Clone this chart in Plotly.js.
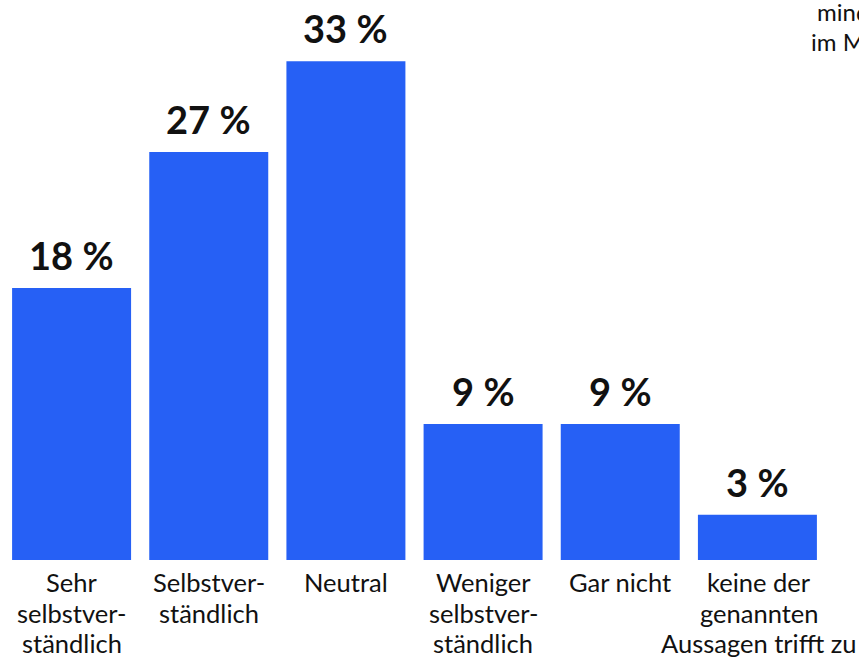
<!DOCTYPE html>
<html>
<head>
<meta charset="utf-8">
<script src="https://cdn.plot.ly/plotly-3.0.1.min.js"></script>
<style>html,body{margin:0;padding:0;background:#fff;overflow:hidden}#chart{width:859px;height:660px}</style>
</head>
<body>
<div id="chart"></div>
<script>
const categories = [
  "Sehr<br>selbstver-<br>ständlich",
  "Selbstver-<br>ständlich",
  "Neutral",
  "Weniger<br>selbstver-<br>ständlich",
  "Gar nicht",
  "keine der<br>genannten<br>Aussagen trifft zu"
];
const values = [18, 27, 33, 9, 9, 3];
const valueLabels = values.map(v => v + "\u202F%");
const noteLines = ["mindestens einmal", "im Monat"];

const barColor = "#2660f5";
const font = "Lato, 'Open Sans', sans-serif";
const textColor = "#111111";

const trace = {
  type: "bar",
  x: categories,
  y: values,
  marker: { color: barColor },
  hoverinfo: "none"
};

const annotations = values.map((v, i) => ({
  x: categories[i], y: v, xref: "x", yref: "y",
  text: "<b>" + valueLabels[i] + "</b>",
  showarrow: false, yanchor: "bottom", yshift: 8,
  font: { family: font, size: 38, color: textColor }
}));

// category labels, one annotation per line for tight line spacing
categories.forEach((c, i) => {
  c.split("<br>").forEach((line, k) => {
    annotations.push({
      x: c, y: 0, xref: "x", yref: "paper", xanchor: "center", yanchor: "top",
      xshift: i === 5 ? 1.5 : 0,
      yshift: -6 - k * 30.5, showarrow: false, text: line, borderpad: 0,
      font: { family: font, size: 25.5, color: textColor }
    });
  });
});

annotations.push({
  xref: "paper", yref: "paper", x: (815 - 3) / 823, y: 1, xanchor: "left", yanchor: "top",
  yshift: 5, showarrow: false, text: noteLines[0],
  font: { family: font, size: 24, color: textColor }
});
annotations.push({
  xref: "paper", yref: "paper", x: (809 - 3) / 823, y: 1, xanchor: "left", yanchor: "top",
  yshift: -25, showarrow: false, text: noteLines[1],
  font: { family: font, size: 24, color: textColor }
});

const layout = {
  width: 859, height: 660,
  margin: { l: 3, r: 33, t: 0, b: 100, pad: 0 },
  paper_bgcolor: "#ffffff", plot_bgcolor: "#ffffff",
  bargap: 0.1325,
  showlegend: false,
  xaxis: {
    type: "category", range: [-0.5, 5.5], showgrid: false, zeroline: false, showline: false,
    ticks: "", showticklabels: false, fixedrange: true
  },
  yaxis: {
    range: [0, 37.06], visible: false, showgrid: false, zeroline: false, fixedrange: true
  },
  annotations: annotations
};

Plotly.newPlot("chart", [trace], layout, { displayModeBar: false, staticPlot: true });
</script>
</body>
</html>
